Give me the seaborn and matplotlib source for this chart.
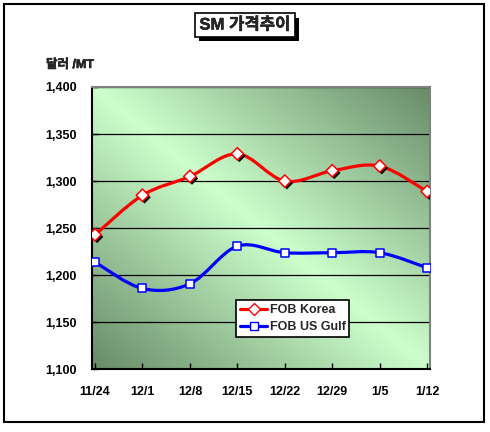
import numpy as np
import pandas as pd
import seaborn as sns
import matplotlib.pyplot as plt
import matplotlib.patheffects as pe
from matplotlib.path import Path
from matplotlib.patches import PathPatch, Rectangle
from matplotlib.lines import Line2D

# data (USD/MT)
dates = ["11/24", "12/1", "12/8", "12/15", "12/22", "12/29", "1/5", "1/12"]
fob_korea = [1243, 1285, 1305, 1329, 1300, 1311, 1316, 1289]
fob_us_gulf = [1214, 1186, 1191, 1231, 1224, 1224, 1224, 1208]
y_ticks = [1100, 1150, 1200, 1250, 1300, 1350, 1400]

sns.set_style("white")
plt.rcParams['font.family'] = ['Liberation Sans', 'Noto Sans CJK KR']
plt.rcParams['font.weight'] = 'bold'

df = pd.DataFrame({"pos": np.arange(len(dates)), "date": dates,
                   "korea": fob_korea, "gulf": fob_us_gulf})


def smooth_path(xs, ys):
    # excel-like smoothed line: catmull-rom as cubic bezier
    pts = np.column_stack([xs, ys]).astype(float)
    ext = np.vstack([pts[0], pts, pts[-1]])
    verts = [pts[0]]
    codes = [Path.MOVETO]
    for i in range(len(pts) - 1):
        p0, p1, p2, p3 = ext[i], ext[i + 1], ext[i + 2], ext[i + 3]
        verts += [p1 + (p2 - p0) / 6, p2 - (p3 - p1) / 6, p2]
        codes += [Path.CURVE4] * 3
    return Path(verts, codes)


fig = plt.figure(figsize=(4.9, 4.32), dpi=100)
ax = fig.add_axes([0.1871, 0.1447, 0.6905, 0.654])

# green diagonal gradient background
u, v = np.meshgrid(np.linspace(0, 1, 300), np.linspace(0, 1, 300))
t = np.abs(u + v - 1)
light = np.array([204, 255, 204]) / 255
dark = np.array([103, 138, 103]) / 255
img = light + (dark - light) * t[..., None]
ax.imshow(img, extent=[0, 1, 0, 1], transform=ax.transAxes, origin='lower',
          aspect='auto', zorder=0)

ax.add_patch(PathPatch(smooth_path(df["pos"], df["korea"]), fill=False,
                       edgecolor='#ff0000', lw=2.3, zorder=3))
ax.add_patch(PathPatch(smooth_path(df["pos"], df["gulf"]), fill=False,
                       edgecolor='#0000ff', lw=2.3, zorder=3))

sns.scatterplot(data=df, x="pos", y="korea", marker='D', s=40, color='white',
                edgecolor='#ff0000', linewidth=1.1, zorder=4, ax=ax,
                path_effects=[pe.SimplePatchShadow(offset=(1.5, -1.5), shadow_rgbFace='black', alpha=1),
                              pe.Normal()])
sns.scatterplot(data=df, x="pos", y="gulf", marker='s', s=30, color='white',
                edgecolor='#0000ff', linewidth=1.1, zorder=4, ax=ax)

ax.set_xlim(-0.07, len(dates) - 1 + 0.06)
ax.set_ylim(1100, 1400)
ax.set_xticks(df["pos"], dates)
ax.set_yticks(y_ticks, [f"{y:,}" for y in y_ticks])
ax.set_xlabel("")
ax.set_ylabel("")
ax.yaxis.grid(True, color='black', lw=0.9)
ax.xaxis.grid(False)
ax.tick_params(axis='x', direction='in', length=4, width=1, pad=12, labelsize=9, colors='black')
ax.tick_params(axis='y', direction='in', length=4, width=1, pad=11, labelsize=9, colors='black')
ax.tick_params(left=True, bottom=True)

for s in ["left", "bottom"]:
    ax.spines[s].set_color('black')
    ax.spines[s].set_linewidth(1.5)
for s in ["top", "right"]:
    ax.spines[s].set_color('#808080')
    ax.spines[s].set_linewidth(1.5)

handles = [
    Line2D([], [], color='#ff0000', lw=2.3, marker='D', ms=6, mfc='white', mec='#ff0000'),
    Line2D([], [], color='#0000ff', lw=2.3, marker='s', ms=5.5, mfc='white', mec='#0000ff'),
]
leg = ax.legend(handles, ["FOB Korea", "FOB US Gulf"], loc='lower left',
                bbox_to_anchor=(0.4266, 0.115), borderaxespad=0, fontsize=9,
                fancybox=False, framealpha=1, edgecolor='black', borderpad=0.3,
                labelspacing=0.4, handlelength=2.2, handletextpad=0.2)
leg.get_frame().set_linewidth(1.2)
leg.set_zorder(5)

# korean glyphs only come in regular weight, thicken them a bit
bold_fx = [pe.withStroke(linewidth=0.35, foreground='black')]

# title box with shadow
title = fig.text(245 / 490, 1 - 25 / 432, "SM 가격추이", ha='center', va='center',
                 fontsize=12, fontweight='bold', path_effects=bold_fx,
                 bbox=dict(boxstyle='square,pad=0.25', fc='white', ec='black', lw=1.2))
title.get_bbox_patch().set_path_effects(
    [pe.SimplePatchShadow(offset=(3, -3), shadow_rgbFace='black', alpha=1), pe.Normal()])

fig.text(46 / 490, 1 - 65 / 432, "달러 /MT", ha='left', va='center', fontsize=9,
         fontweight='bold', path_effects=bold_fx)

# outer chart border
fig.add_artist(Rectangle((4 / 490, 10 / 432), 480 / 490, 418 / 432, transform=fig.transFigure,
                         fill=False, ec='black', lw=1.5))

fig.savefig("out.png", dpi=100)
